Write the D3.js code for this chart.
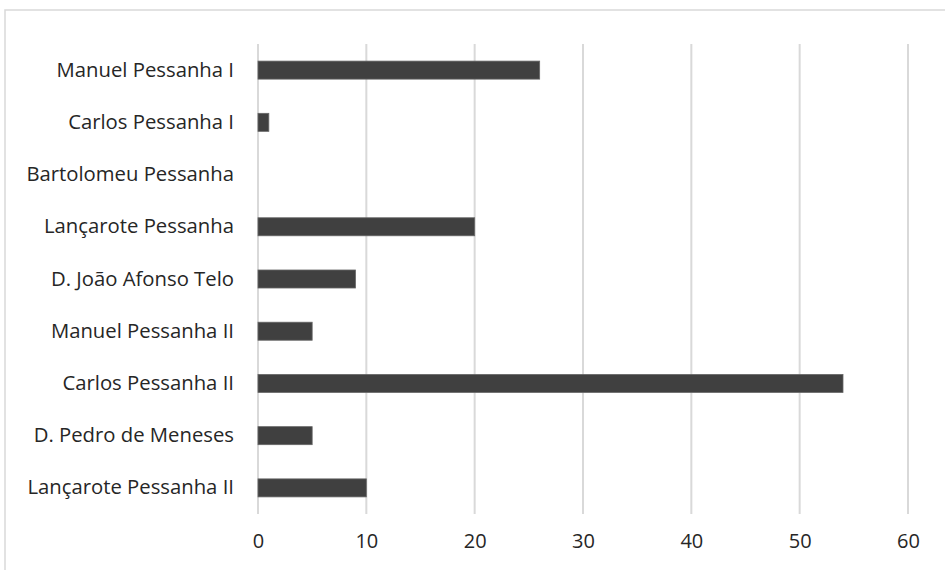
<!DOCTYPE html>
<html><head><meta charset="utf-8">
<script src="https://cdn.jsdelivr.net/npm/d3@7"></script>
<style>body{margin:0;background:#fff;}</style>
</head><body>
<svg id="chart" width="945" height="570"></svg>
<script>
const categories = ["Manuel Pessanha I","Carlos Pessanha I","Bartolomeu Pessanha","Lançarote Pessanha","D. João Afonso Telo","Manuel Pessanha II","Carlos Pessanha II","D. Pedro de Meneses","Lançarote Pessanha II"];
const values = [26,1,0,20,9,5,54,5,10];
const ticks = [0,10,20,30,40,50,60];

const svg = d3.select("#chart");
const W = 945, H = 570;
const m = {left:258, right:37, top:44, bottom:56};

svg.append("rect").attr("x",5).attr("y",10).attr("width",W).attr("height",H)
  .attr("fill","#fff").attr("stroke","#d9d9d9").attr("stroke-width",1.5);

const x = d3.scaleLinear().domain([0,60]).range([m.left, W-m.right]);
const y = d3.scaleBand().domain(categories).range([m.top, H-m.bottom]).paddingInner(0.655).paddingOuter(0.3275);

const font = "'Open Sans', sans-serif";

svg.append("g").selectAll("line").data(ticks).join("line")
  .attr("x1",d=>x(d)).attr("x2",d=>x(d)).attr("y1",m.top).attr("y2",H-m.bottom)
  .attr("stroke","#d9d9d9").attr("stroke-width",2);

svg.append("g").selectAll("rect").data(categories).join("rect")
  .attr("x",x(0)).attr("y",d=>y(d))
  .attr("width",(d,i)=>x(values[i])-x(0)).attr("height",y.bandwidth())
  .attr("fill","#404040").attr("stroke","#666").attr("stroke-width",0.8);

const xAxis = svg.append("g").attr("transform",`translate(0,${H-m.bottom})`)
  .call(d3.axisBottom(x).tickValues(ticks).tickSize(0).tickPadding(20));
xAxis.select(".domain").remove();
xAxis.selectAll("text").attr("font-family",font).attr("font-size",20).attr("fill","#262626");

const yAxis = svg.append("g").attr("transform",`translate(${m.left},0)`)
  .call(d3.axisLeft(y).tickSize(0).tickPadding(24));
yAxis.select(".domain").remove();
yAxis.selectAll("text").attr("font-family",font).attr("font-size",20.3).attr("fill","#262626");
</script>
</body></html>
